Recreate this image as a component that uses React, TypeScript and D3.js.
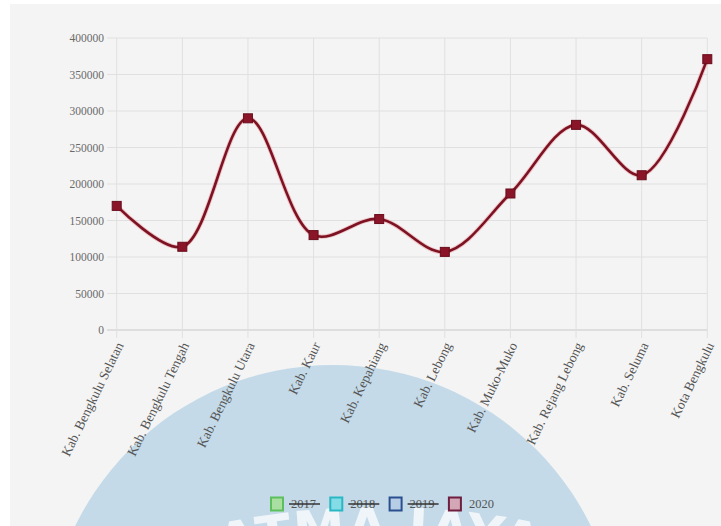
import React from "react";
import * as d3 from "d3";

const WIDTH = 721;
const HEIGHT = 526;

// Regencies / city of Bengkulu province
const categories = [
  "Kab. Bengkulu Selatan",
  "Kab. Bengkulu Tengah",
  "Kab. Bengkulu Utara",
  "Kab. Kaur",
  "Kab. Kepahiang",
  "Kab. Lebong",
  "Kab. Muko-Muko",
  "Kab. Rejang Lebong",
  "Kab. Seluma",
  "Kota Bengkulu",
];

// Visible series (latest year)
const values2020 = [170000, 114000, 290000, 130000, 152000, 107000, 187000, 281000, 212000, 371000];

const yTicks = [0, 50000, 100000, 150000, 200000, 250000, 300000, 350000, 400000];

const legendLabels = ["2017", "2018", "2019", "2020"];
const legendHidden = [true, true, true, false];
const legendStroke = ["#5dbf5d", "#29b7c4", "#2a4f8f", "#6e1f3f"];
const legendFill = ["#a9e0a2", "#84dde6", "#b7cde6", "#d3a7b6"];

export default function App() {
  const left = 116.7;
  const right = 707.3;
  const top = 38;
  const bottom = 330;

  const x = d3.scalePoint<string>().domain(categories).range([left, right]).padding(0);
  const y = d3.scaleLinear().domain([0, 400000]).range([bottom, top]);

  const pts = categories.map((c, i) => [x(c) as number, y(values2020[i])] as [number, number]);
  const line = d3.line().curve(d3.curveCatmullRom.alpha(0.5))(pts) || "";

  const textFont = "'Liberation Serif', 'Times New Roman', serif";

  // legend layout
  const legendStart = 271;
  const legendStep = 59.3;
  const legendY = 504;

  // watermark geometry
  const wmCx = 333;
  const wmCy = 652;
  const wmR = 287;
  const arcCx = 380;
  const arcCy = 1300;
  const arcR = 755;
  const arcPath = `M ${arcCx - arcR},${arcCy} A ${arcR},${arcR} 0 0 1 ${arcCx + arcR},${arcCy}`;

  return (
    <svg
      width={WIDTH}
      height={HEIGHT}
      style={{ position: "absolute", left: 0, top: 0, display: "block" }}
      xmlns="http://www.w3.org/2000/svg"
    >
      <rect x={0} y={0} width={WIDTH} height={HEIGHT} fill="#ffffff" />
      <rect x={10} y={4} width={WIDTH - 10} height={HEIGHT - 4} fill="#f4f4f4" />

      {/* horizontal grid + tick marks */}
      {yTicks.map((t) => (
        <line
          key={"h" + t}
          x1={107}
          x2={right}
          y1={y(t)}
          y2={y(t)}
          stroke={t === 0 ? "#c8c8c8" : "#e0e0e0"}
          strokeWidth={1}
        />
      ))}
      {/* vertical grid */}
      {categories.map((c) => (
        <line
          key={"v" + c}
          x1={x(c)}
          x2={x(c)}
          y1={top}
          y2={bottom + 8}
          stroke="#e0e0e0"
          strokeWidth={1}
        />
      ))}

      {/* y tick labels */}
      {yTicks.map((t) => (
        <text
          key={"yl" + t}
          x={104}
          y={y(t)}
          dy="0.35em"
          textAnchor="end"
          fontFamily={textFont}
          fontSize={11.5}
          fill="#6a6a6a"
        >
          {t}
        </text>
      ))}

      {/* watermark disc */}
      <circle cx={wmCx} cy={wmCy} r={wmR} fill="#c4dae8" />
      <defs>
        <path id="wm-arc" d={arcPath} />
      </defs>
      <text
        fontFamily="'DejaVu Sans', sans-serif"
        fontWeight="bold"
        fontSize={52}
        fill="#ffffff"
        opacity={0.75}
        letterSpacing={1}
      >
        <textPath href="#wm-arc" startOffset="50%" textAnchor="middle">
          ATMA JAYA
        </textPath>
      </text>

      {/* x tick labels */}
      {categories.map((c) => (
        <text
          key={"xl" + c}
          transform={`translate(${(x(c) as number) + 3},${bottom + 13}) rotate(-64)`}
          textAnchor="end"
          dy="0.35em"
          fontFamily={textFont}
          fontSize={13.5}
          fill="#555"
        >
          {c}
        </text>
      ))}

      {/* series line */}
      <path d={line} fill="none" stroke="#e9a7ae" strokeWidth={4.5} opacity={0.6} />
      <path d={line} fill="none" stroke="#7d1222" strokeWidth={2.6} />
      {pts.map(([px, py], i) => (
        <rect
          key={"p" + i}
          x={px - 4.5}
          y={py - 4.5}
          width={9}
          height={9}
          fill="#8a1428"
          stroke="#6a0d1c"
          strokeWidth={1}
        />
      ))}

      {/* legend */}
      {legendLabels.map((lab, i) => {
        const bx = legendStart + i * legendStep;
        return (
          <g key={"lg" + lab}>
            <rect
              x={bx}
              y={legendY - 6.5}
              width={12}
              height={13}
              fill={legendFill[i]}
              stroke={legendStroke[i]}
              strokeWidth={2}
            />
            <text
              x={bx + 20}
              y={legendY}
              dy="0.35em"
              fontFamily={textFont}
              fontSize={12.5}
              fill="#555"
            >
              {lab}
            </text>
            {legendHidden[i] && (
              <line x1={bx + 18} x2={bx + 49} y1={legendY} y2={legendY} stroke="#333" strokeWidth={1.5} />
            )}
          </g>
        );
      })}
    </svg>
  );
}
